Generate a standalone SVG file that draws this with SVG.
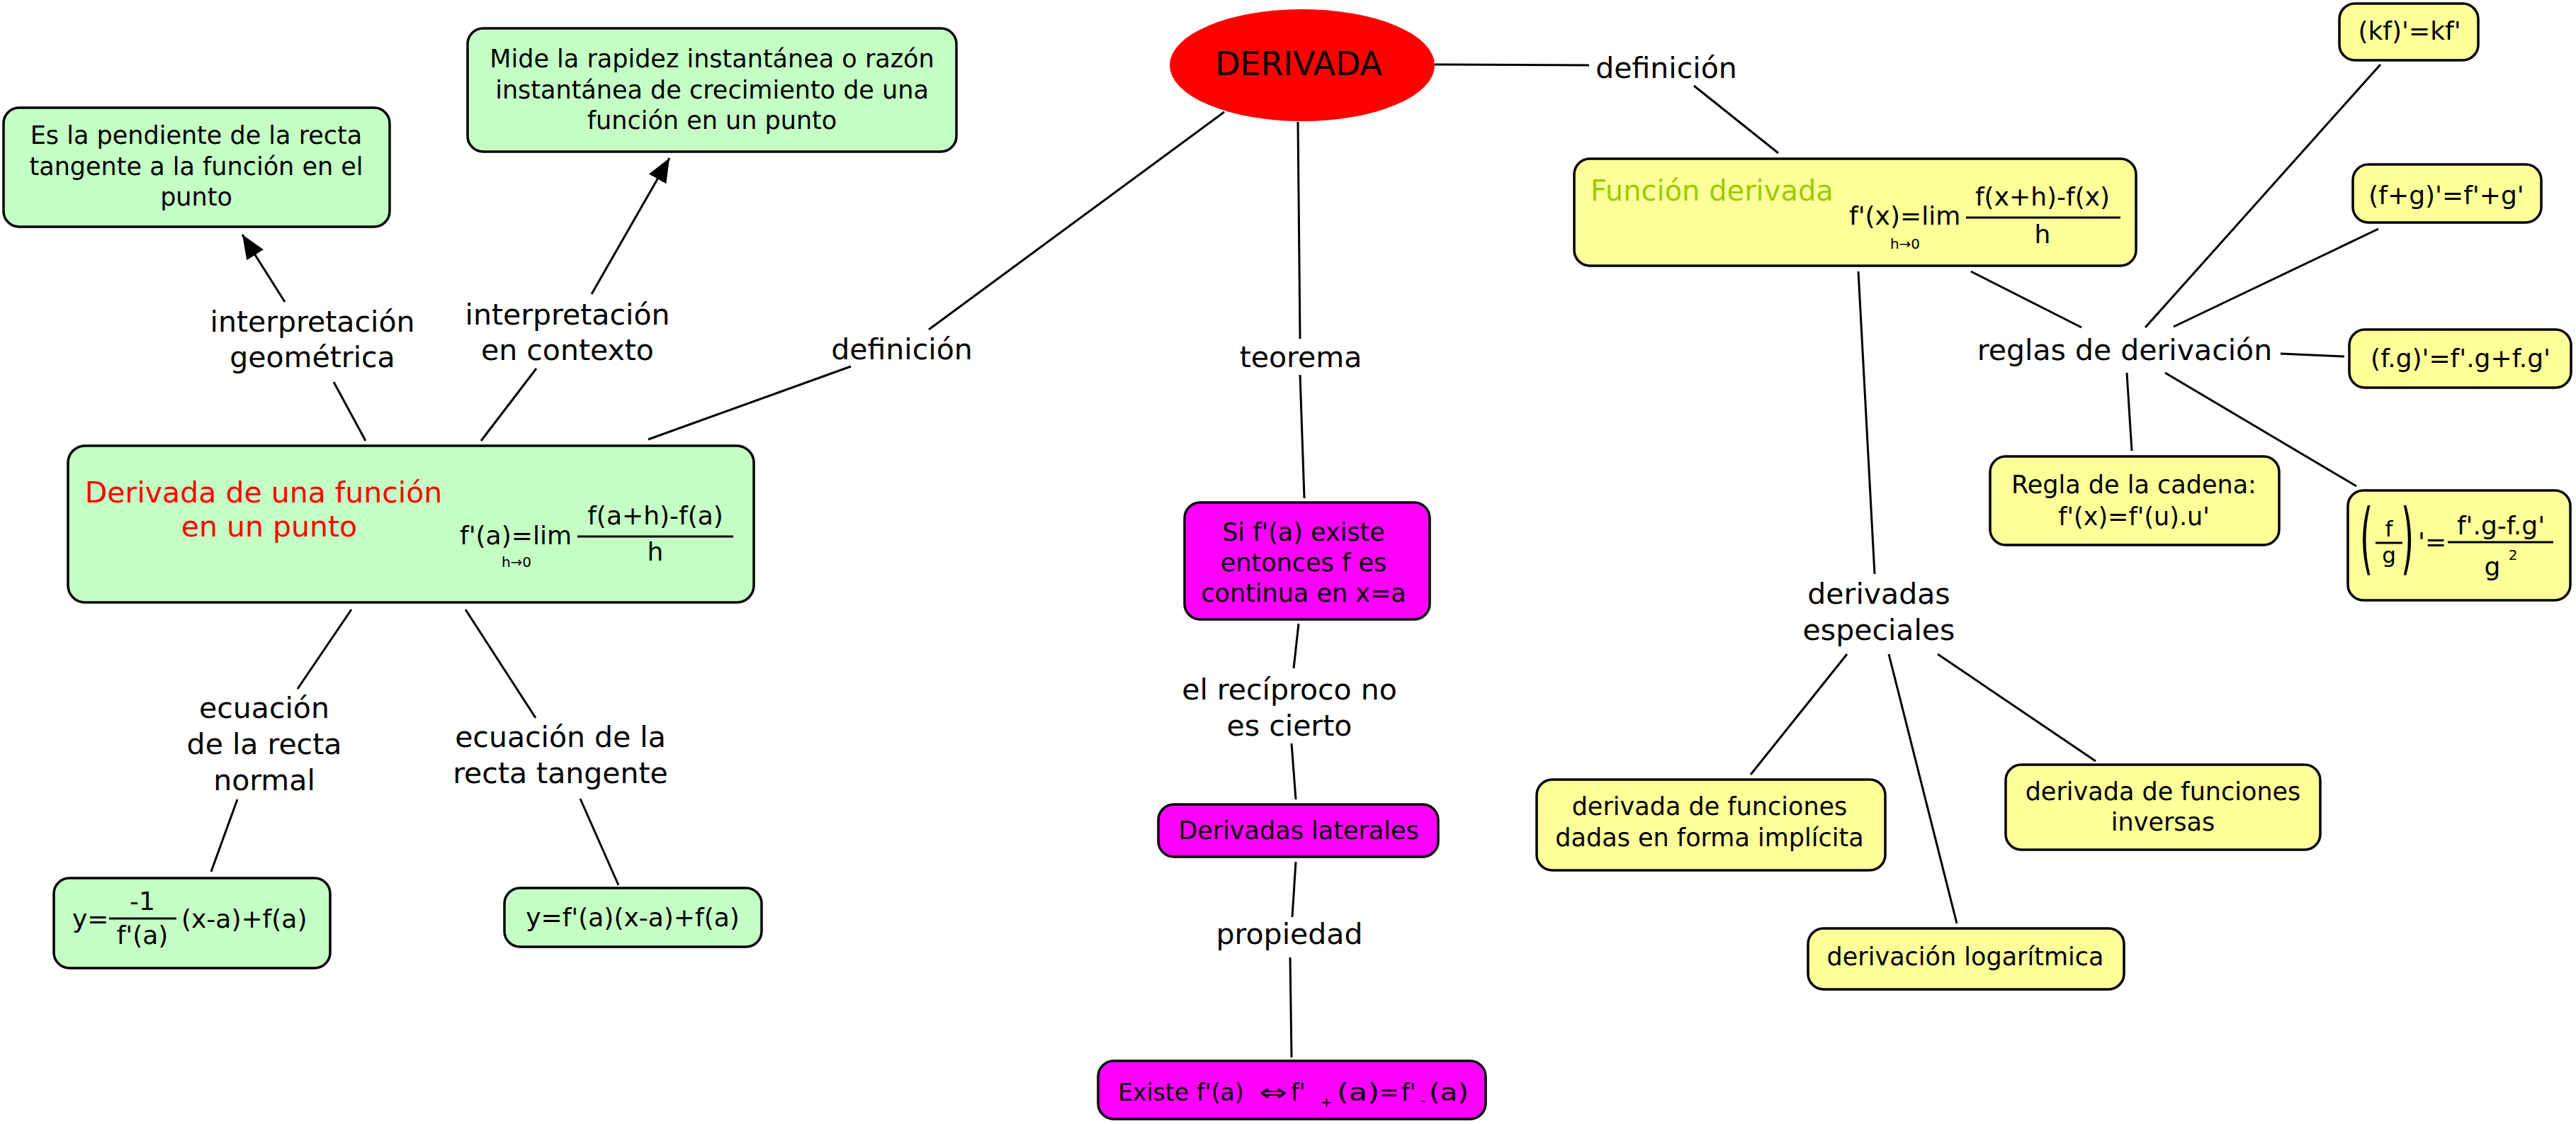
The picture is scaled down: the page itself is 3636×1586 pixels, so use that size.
<svg xmlns="http://www.w3.org/2000/svg" width="3636" height="1586" viewBox="0 0 3636 1586">
<defs>
<style>
text{font-family:"DejaVu Sans",Verdana,sans-serif;fill:#000}
.n{font-size:35px;text-anchor:middle}
.l{font-size:41px;text-anchor:middle}
.m{font-size:36px}
.e{font-size:33px}
.s{font-size:20px}
.box{stroke:#000;stroke-width:3.5}
.g{fill:#C4FFC4}
.y{fill:#FFFF99}
.p{fill:#FF00FF}
.c line{stroke:#000;stroke-width:3}
.bar{stroke:#000;stroke-width:3}
</style>
<marker id="arr" viewBox="0 0 34 28" refX="34" refY="14" markerWidth="34" markerHeight="28" markerUnits="userSpaceOnUse" orient="auto">
<path d="M0,0 L34,14 L0,28 z" fill="#000"/>
</marker>
</defs>
<rect width="3636" height="1586" fill="#fff"/>

<g id="connectors" class="c">
<line x1="2025" y1="91" x2="2243" y2="92"/>
<line x1="2391" y1="121" x2="2510" y2="216"/>
<line x1="1728" y1="158" x2="1311" y2="465"/>
<line x1="1201" y1="517" x2="915" y2="620"/>
<line x1="1832" y1="172" x2="1835" y2="478"/>
<line x1="1835" y1="529" x2="1841" y2="703"/>
<line x1="516" y1="622" x2="471" y2="539"/>
<line x1="402" y1="426" x2="342" y2="331" marker-end="url(#arr)"/>
<line x1="679" y1="622" x2="757" y2="520"/>
<line x1="835" y1="415" x2="945" y2="223" marker-end="url(#arr)"/>
<line x1="496" y1="860" x2="420" y2="972"/>
<line x1="335" y1="1128" x2="298" y2="1230"/>
<line x1="657" y1="860" x2="756" y2="1013"/>
<line x1="819" y1="1127" x2="873" y2="1249"/>
<line x1="1833" y1="880" x2="1826" y2="943"/>
<line x1="1823" y1="1049" x2="1829" y2="1128"/>
<line x1="1829" y1="1216" x2="1824" y2="1294"/>
<line x1="1821" y1="1351" x2="1823" y2="1492"/>
<line x1="2782" y1="383" x2="2938" y2="462"/>
<line x1="3028" y1="462" x2="3360" y2="91"/>
<line x1="3068" y1="461" x2="3357" y2="323"/>
<line x1="3219" y1="499" x2="3309" y2="503"/>
<line x1="3056" y1="526" x2="3326" y2="686"/>
<line x1="3002" y1="526" x2="3009" y2="636"/>
<line x1="2623" y1="383" x2="2646" y2="810"/>
<line x1="2607" y1="923" x2="2471" y2="1093"/>
<line x1="2666" y1="923" x2="2762" y2="1303"/>
<line x1="2735" y1="923" x2="2958" y2="1074"/>
</g>

<g id="labels">
<text class="l" x="2352" y="110">definición</text>
<text class="l" x="1273" y="507">definición</text>
<text class="l" x="1836" y="518">teorema</text>
<text class="l" x="441" y="468">interpretación</text>
<text class="l" x="441" y="518">geométrica</text>
<text class="l" x="801" y="458">interpretación</text>
<text class="l" x="801" y="508">en contexto</text>
<text class="l" x="373" y="1013">ecuación</text>
<text class="l" x="373" y="1064">de la recta</text>
<text class="l" x="373" y="1115">normal</text>
<text class="l" x="791" y="1054">ecuación de la</text>
<text class="l" x="791" y="1105">recta tangente</text>
<text class="l" x="1820" y="987">el recíproco no</text>
<text class="l" x="1820" y="1038">es cierto</text>
<text class="l" x="1820" y="1332">propiedad</text>
<text class="l" x="2999" y="508">reglas de derivación</text>
<text class="l" x="2652" y="852">derivadas</text>
<text class="l" x="2652" y="903">especiales</text>
</g>

<g id="derivada">
<ellipse cx="1838" cy="92" rx="187" ry="79" fill="#FF0000"/>
<text x="1833" y="106" font-size="46" text-anchor="middle">DERIVADA</text>
</g>

<g id="pendiente">
<rect class="box g" x="5" y="152" width="545" height="168" rx="22"/>
<text class="n" x="277" y="203">Es la pendiente de la recta</text>
<text class="n" x="277" y="247">tangente a la función en el</text>
<text class="n" x="277" y="290">punto</text>
</g>

<g id="mide">
<rect class="box g" x="660" y="40" width="690" height="174" rx="22"/>
<text class="n" x="1005" y="95">Mide la rapidez instantánea o razón</text>
<text class="n" x="1005" y="139">instantánea de crecimiento de una</text>
<text class="n" x="1005" y="182">función en un punto</text>
</g>

<g id="derivada-punto">
<rect class="box g" x="96" y="629" width="968" height="221" rx="24"/>
<text x="372" y="709" font-size="41" text-anchor="middle" style="fill:#FF0000">Derivada de una función</text>
<text x="380" y="757" font-size="41" text-anchor="middle" style="fill:#FF0000">en un punto</text>
<text class="m" x="649" y="768">f'(a)=lim</text>
<line class="bar" x1="815" y1="757" x2="1035" y2="757"/>
<text class="m" x="925" y="740" text-anchor="middle">f(a+h)-f(a)</text>
<text class="m" x="925" y="791" text-anchor="middle">h</text>
<text class="s" x="729" y="800" text-anchor="middle">h→0</text>
</g>

<g id="recta-normal">
<rect class="box g" x="76" y="1239" width="390" height="127" rx="22"/>
<text class="m" x="102" y="1309">y=</text>
<line class="bar" x1="154" y1="1296" x2="249" y2="1296"/>
<text class="m" x="201" y="1284" text-anchor="middle">-1</text>
<text class="m" x="201" y="1332" text-anchor="middle">f'(a)</text>
<text class="m" x="256" y="1309">(x-a)+f(a)</text>
</g>

<g id="recta-tangente">
<rect class="box g" x="712" y="1253" width="363" height="83" rx="22"/>
<text class="m" x="893" y="1307" text-anchor="middle">y=f'(a)(x-a)+f(a)</text>
</g>

<g id="teorema-si">
<rect class="box p" x="1672" y="709" width="346" height="165" rx="22"/>
<text class="n" x="1840" y="763">Si f'(a) existe</text>
<text class="n" x="1840" y="806">entonces f es</text>
<text class="n" x="1840" y="849">continua en x=a</text>
</g>

<g id="laterales">
<rect class="box p" x="1635" y="1135" width="395" height="74" rx="22"/>
<text class="n" x="1833" y="1184">Derivadas laterales</text>
</g>

<g id="existe">
<rect class="box p" x="1550" y="1497" width="547" height="82" rx="22"/>
<text class="e" x="1578" y="1553">Existe</text>
<text class="e" x="1689" y="1553">f'(a)</text>
<text class="e" x="1777" y="1553" textLength="40" lengthAdjust="spacingAndGlyphs">⇔</text>
<text class="e" x="1822" y="1553">f'</text>
<text class="s" x="1864" y="1562">+</text>
<text class="e" x="1887" y="1553" textLength="60" lengthAdjust="spacingAndGlyphs">(a)</text>
<text class="e" x="1947" y="1553">=</text>
<text class="e" x="1978" y="1553">f'</text>
<text class="s" x="2005" y="1560">-</text>
<text class="e" x="2017" y="1553" textLength="56" lengthAdjust="spacingAndGlyphs">(a)</text>
</g>

<g id="funcion-derivada">
<rect class="box y" x="2222" y="224" width="793" height="151" rx="22"/>
<text x="2245" y="283" font-size="40" style="fill:#99CC00">Función derivada</text>
<text class="m" x="2610" y="317">f'(x)=lim</text>
<line class="bar" x1="2775" y1="307" x2="2993" y2="307"/>
<text class="m" x="2883" y="290" text-anchor="middle">f(x+h)-f(x)</text>
<text class="m" x="2883" y="343" text-anchor="middle">h</text>
<text class="s" x="2689" y="351" text-anchor="middle">h→0</text>
</g>

<g id="regla-kf">
<rect class="box y" x="3302" y="5" width="196" height="80" rx="22"/>
<text class="m" x="3401" y="56" text-anchor="middle">(kf)'=kf'</text>
</g>

<g id="regla-suma">
<rect class="box y" x="3321" y="232" width="266" height="82" rx="22"/>
<text class="m" x="3453" y="288" text-anchor="middle">(f+g)'=f'+g'</text>
</g>

<g id="regla-producto">
<rect class="box y" x="3316" y="465" width="313" height="82" rx="22"/>
<text class="m" x="3473" y="518" text-anchor="middle">(f.g)'=f'.g+f.g'</text>
</g>

<g id="regla-cociente">
<rect class="box y" x="3314" y="692" width="314" height="155" rx="22"/>
<text transform="translate(3331,797) scale(1.26,3)" font-size="37">(</text>
<text transform="translate(3389,797) scale(1.26,3)" font-size="37">)</text>
<text x="3372" y="757" font-size="31" text-anchor="middle">f</text>
<line class="bar" x1="3353" y1="766" x2="3391" y2="766"/>
<text x="3372" y="794" font-size="31" text-anchor="middle">g</text>
<text class="m" x="3413" y="777">'=</text>
<line class="bar" x1="3455" y1="765" x2="3604" y2="765"/>
<text class="m" x="3530" y="754" text-anchor="middle">f'.g-f.g'</text>
<text class="m" x="3518" y="812" text-anchor="middle">g</text>
<text class="s" x="3547" y="790" text-anchor="middle">2</text>
</g>

<g id="regla-cadena">
<rect class="box y" x="2809" y="644" width="408" height="125" rx="22"/>
<text class="n" x="3012" y="696">Regla de la cadena:</text>
<text class="n" x="3012" y="741">f'(x)=f'(u).u'</text>
</g>

<g id="implicita">
<rect class="box y" x="2169" y="1100" width="492" height="128" rx="22"/>
<text class="n" x="2413" y="1150">derivada de funciones</text>
<text class="n" x="2413" y="1194">dadas en forma implícita</text>
</g>

<g id="inversas">
<rect class="box y" x="2831" y="1079" width="444" height="120" rx="22"/>
<text class="n" x="3053" y="1129">derivada de funciones</text>
<text class="n" x="3053" y="1172">inversas</text>
</g>

<g id="logaritmica">
<rect class="box y" x="2552" y="1310" width="446" height="86" rx="22"/>
<text class="n" x="2774" y="1362">derivación logarítmica</text>
</g>
</svg>
